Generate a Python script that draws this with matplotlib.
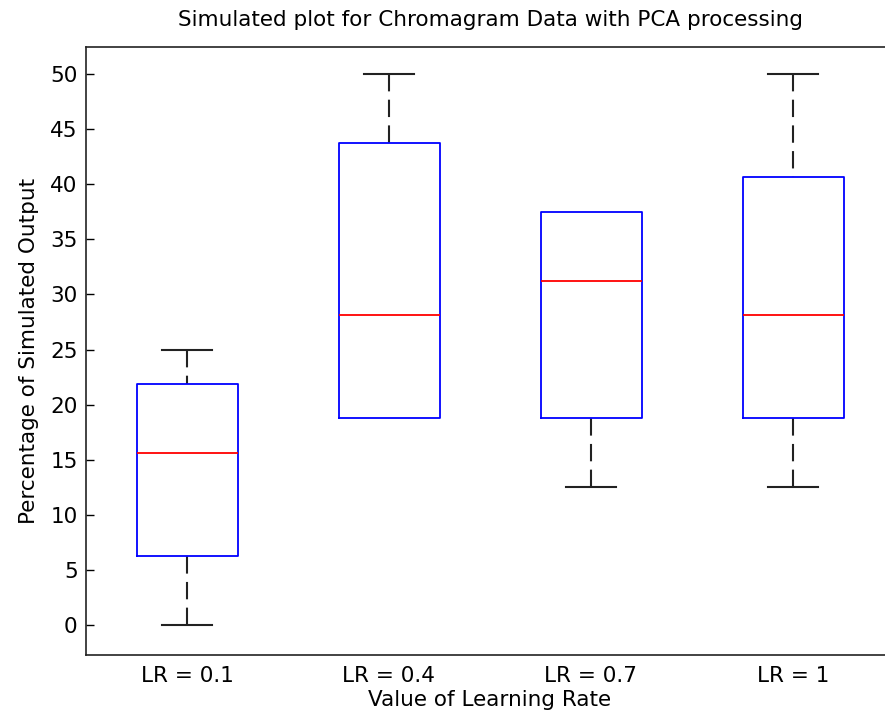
import matplotlib
matplotlib.use("Agg")
import matplotlib.pyplot as plt

plt.rcParams['font.family'] = ['DejaVu Sans']
plt.rcParams['lines.scale_dashes'] = False

categories = ["LR = 0.1", "LR = 0.4", "LR = 0.7", "LR = 1"]
whisker_low = [0.0, 18.75, 12.5, 12.5]
q1 = [6.25, 18.75, 18.75, 18.75]
median = [15.625, 28.125, 31.25, 28.125]
q3 = [21.875, 43.75, 37.5, 40.625]
whisker_high = [25.0, 50.0, 37.5, 50.0]
yticks = [0, 5, 10, 15, 20, 25, 30, 35, 40, 45, 50]

stats = []
for i, c in enumerate(categories):
    stats.append(dict(label=c, whislo=whisker_low[i], q1=q1[i], med=median[i],
                      q3=q3[i], whishi=whisker_high[i], fliers=[]))

fig = plt.figure(figsize=(8.85, 7.17), dpi=100)
ax = fig.add_axes([86/885, 1-655/717, (894-86)/885, (655-47)/717])

FS = 15.5

res = ax.bxp(stats, positions=[1, 2, 3, 4], widths=0.5, showfliers=False,
             boxprops=dict(color='#0000ff', linewidth=1.3, zorder=4),
             medianprops=dict(color='#ff0000', linewidth=1.3, zorder=5),
             whiskerprops=dict(color='#222222', linewidth=1.5, linestyle=(0, (12.5, 6)), zorder=2),
             capprops=dict(color='#222222', linewidth=1.5, zorder=2),
             capwidths=0.25)

# MATLAB style: dashes start at the cap; hide caps that coincide with box edges
for i in range(len(categories)):
    for w in res['whiskers'][2*i:2*i+2]:
        w.set_ydata(list(w.get_ydata())[::-1])
    lo_cap, hi_cap = res['caps'][2*i], res['caps'][2*i+1]
    if whisker_low[i] == q1[i]:
        lo_cap.set_visible(False)
        res['whiskers'][2*i].set_visible(False)
    if whisker_high[i] == q3[i]:
        hi_cap.set_visible(False)
        res['whiskers'][2*i+1].set_visible(False)

ax.set_xlim(0.5, 4.5)
ax.set_ylim(-2.72, 52.45)
ax.set_yticks(yticks)
ax.set_yticklabels([str(v) for v in yticks], fontsize=FS)
ax.set_xticks([1, 2, 3, 4])
ax.set_xticklabels(categories, fontsize=FS)
ax.tick_params(axis='y', direction='in', length=6, width=1, left=True, right=True, pad=6)
ax.tick_params(axis='x', length=0, pad=8)
for s in ax.spines.values():
    s.set_linewidth(1.2)
    s.set_color('#222222')

ax.set_title("Simulated plot for Chromagram Data with PCA processing", fontsize=FS, pad=15)
ax.set_xlabel("Value of Learning Rate", fontsize=FS, labelpad=3)
ax.set_ylabel("Percentage of Simulated Output", fontsize=FS, labelpad=8)

fig.savefig("out.png", dpi=100)
